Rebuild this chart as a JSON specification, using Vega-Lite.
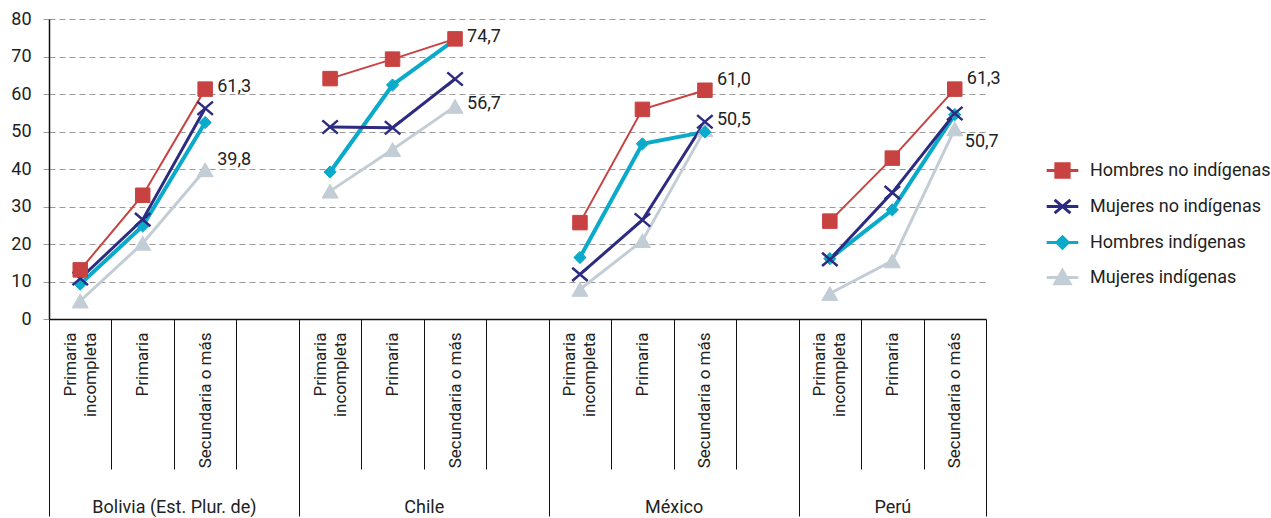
{
  "$schema": "https://vega.github.io/schema/vega-lite/v6.json",
  "width": 937,
  "height": 300,
  "autosize": {"type": "none"},
  "padding": {"left": 49, "top": 19, "right": 285, "bottom": 199},
  "background": "white",
  "config": {
    "view": {"stroke": null},
    "font": "Roboto",
    "text": {"font": "Roboto"}
  },
  "data": {
    "values": [
      {"country": "Bolivia (Est. Plur. de)", "series": "Mujeres indígenas", "level": "Primaria incompleta", "value": 4.8},
      {"country": "Bolivia (Est. Plur. de)", "series": "Mujeres indígenas", "level": "Primaria", "value": 20.2},
      {"country": "Bolivia (Est. Plur. de)", "series": "Mujeres indígenas", "level": "Secundaria o más", "value": 39.8, "label": "39,8"},
      {"country": "Chile", "series": "Mujeres indígenas", "level": "Primaria incompleta", "value": 34.1},
      {"country": "Chile", "series": "Mujeres indígenas", "level": "Primaria", "value": 45.2},
      {"country": "Chile", "series": "Mujeres indígenas", "level": "Secundaria o más", "value": 56.7, "label": "56,7"},
      {"country": "México", "series": "Mujeres indígenas", "level": "Primaria incompleta", "value": 7.9},
      {"country": "México", "series": "Mujeres indígenas", "level": "Primaria", "value": 20.9},
      {"country": "México", "series": "Mujeres indígenas", "level": "Secundaria o más", "value": 50.5, "label": "50,5"},
      {"country": "Perú", "series": "Mujeres indígenas", "level": "Primaria incompleta", "value": 6.8},
      {"country": "Perú", "series": "Mujeres indígenas", "level": "Primaria", "value": 15.5},
      {"country": "Perú", "series": "Mujeres indígenas", "level": "Secundaria o más", "value": 50.7, "label": "50,7"},

      {"country": "Bolivia (Est. Plur. de)", "series": "Hombres indígenas", "level": "Primaria incompleta", "value": 9.3},
      {"country": "Bolivia (Est. Plur. de)", "series": "Hombres indígenas", "level": "Primaria", "value": 24.8},
      {"country": "Bolivia (Est. Plur. de)", "series": "Hombres indígenas", "level": "Secundaria o más", "value": 52.4},
      {"country": "Chile", "series": "Hombres indígenas", "level": "Primaria incompleta", "value": 39.2},
      {"country": "Chile", "series": "Hombres indígenas", "level": "Primaria", "value": 62.4},
      {"country": "Chile", "series": "Hombres indígenas", "level": "Secundaria o más", "value": 74.5},
      {"country": "México", "series": "Hombres indígenas", "level": "Primaria incompleta", "value": 16.4},
      {"country": "México", "series": "Hombres indígenas", "level": "Primaria", "value": 46.7},
      {"country": "México", "series": "Hombres indígenas", "level": "Secundaria o más", "value": 49.9},
      {"country": "Perú", "series": "Hombres indígenas", "level": "Primaria incompleta", "value": 16.1},
      {"country": "Perú", "series": "Hombres indígenas", "level": "Primaria", "value": 29.1},
      {"country": "Perú", "series": "Hombres indígenas", "level": "Secundaria o más", "value": 54.5},

      {"country": "Bolivia (Est. Plur. de)", "series": "Mujeres no indígenas", "level": "Primaria incompleta", "value": 10.8},
      {"country": "Bolivia (Est. Plur. de)", "series": "Mujeres no indígenas", "level": "Primaria", "value": 26.5},
      {"country": "Bolivia (Est. Plur. de)", "series": "Mujeres no indígenas", "level": "Secundaria o más", "value": 56.2},
      {"country": "Chile", "series": "Mujeres no indígenas", "level": "Primaria incompleta", "value": 51.2},
      {"country": "Chile", "series": "Mujeres no indígenas", "level": "Primaria", "value": 51.0},
      {"country": "Chile", "series": "Mujeres no indígenas", "level": "Secundaria o más", "value": 64.0},
      {"country": "México", "series": "Mujeres no indígenas", "level": "Primaria incompleta", "value": 11.9},
      {"country": "México", "series": "Mujeres no indígenas", "level": "Primaria", "value": 26.4},
      {"country": "México", "series": "Mujeres no indígenas", "level": "Secundaria o más", "value": 52.6},
      {"country": "Perú", "series": "Mujeres no indígenas", "level": "Primaria incompleta", "value": 15.9},
      {"country": "Perú", "series": "Mujeres no indígenas", "level": "Primaria", "value": 33.7},
      {"country": "Perú", "series": "Mujeres no indígenas", "level": "Secundaria o más", "value": 54.8},

      {"country": "Bolivia (Est. Plur. de)", "series": "Hombres no indígenas", "level": "Primaria incompleta", "value": 13.1},
      {"country": "Bolivia (Est. Plur. de)", "series": "Hombres no indígenas", "level": "Primaria", "value": 33.0},
      {"country": "Bolivia (Est. Plur. de)", "series": "Hombres no indígenas", "level": "Secundaria o más", "value": 61.3, "label": "61,3"},
      {"country": "Chile", "series": "Hombres no indígenas", "level": "Primaria incompleta", "value": 64.1},
      {"country": "Chile", "series": "Hombres no indígenas", "level": "Primaria", "value": 69.3},
      {"country": "Chile", "series": "Hombres no indígenas", "level": "Secundaria o más", "value": 74.7, "label": "74,7"},
      {"country": "México", "series": "Hombres no indígenas", "level": "Primaria incompleta", "value": 25.7},
      {"country": "México", "series": "Hombres no indígenas", "level": "Primaria", "value": 55.9},
      {"country": "México", "series": "Hombres no indígenas", "level": "Secundaria o más", "value": 61.0, "label": "61,0"},
      {"country": "Perú", "series": "Hombres no indígenas", "level": "Primaria incompleta", "value": 26.1},
      {"country": "Perú", "series": "Hombres no indígenas", "level": "Primaria", "value": 42.9},
      {"country": "Perú", "series": "Hombres no indígenas", "level": "Secundaria o más", "value": 61.3, "label": "61,3"}
    ]
  },
  "transform": [
    {"calculate": "indexof(['Bolivia (Est. Plur. de)','Chile','México','Perú'], datum.country) * 4 + indexof(['Primaria incompleta','Primaria','Secundaria o más'], datum.level) + 0.5", "as": "pos"}
  ],
  "encoding": {
    "y": {"field": "value", "type": "quantitative", "scale": {"domain": [0, 80], "nice": false, "zero": true}, "axis": {"title": null, "values": [0, 10, 20, 30, 40, 50, 60, 70, 80], "grid": true, "gridColor": "#9a9a9a", "gridDash": [6, 4], "gridWidth": 1, "tickSize": 6, "tickColor": "#9a9a9a", "tickDash": [6, 4], "domain": true, "domainColor": "#111", "domainWidth": 1.5, "labelFontSize": 18, "labelColor": "#222", "labelPadding": 12}}
  },
  "resolve": {"axis": {"x": "independent"}},
  "layer": [
    {
      "mark": {"type": "line", "strokeCap": "butt", "strokeJoin": "miter"},
      "encoding": {
        "x": {"field": "pos", "type": "quantitative", "scale": {"domain": [0, 15], "nice": false, "zero": false}, "axis": {"orient": "bottom", "title": null, "values": [1, 2, 3, 5, 6, 7, 9, 10, 11, 13, 14], "labels": false, "tickSize": 150, "tickColor": "#111", "tickWidth": 1, "domain": true, "domainColor": "#111", "domainWidth": 1.5, "grid": false}},
        "color": {"field": "series", "type": "nominal", "legend": null, "scale": {"range": ["#0AAACB", "#C94242", "#C3CDD6", "#2C2B80"]}},
        "strokeWidth": {"field": "series", "type": "nominal", "legend": null, "scale": {"type": "ordinal", "range": [4, 2, 3, 3]}},
        "detail": {"field": "country"}
      }
    },
    {
      "transform": [{"filter": "datum.series == 'Mujeres indígenas'"}],
      "mark": {"type": "point", "shape": "triangle-up", "size": 256, "filled": true, "opacity": 1, "fill": "#C3CDD6", "stroke": "#C3CDD6", "strokeWidth": 1},
      "encoding": {
        "x": {"field": "pos", "type": "quantitative", "axis": {"orient": "bottom", "title": null, "values": [1.5, 2.5, 5.5, 6.5, 9.5, 10.5, 13.5, 14.5], "ticks": false, "domain": false, "grid": false, "labelAngle": 270, "labelAlign": "right", "labelBaseline": "middle", "labelPadding": 13, "labelFontSize": 17, "labelColor": "#222", "labelFlush": false, "labelOverlap": false, "labelExpr": "datum.value % 4 == 1.5 ? 'Primaria' : 'Secundaria o más'"}}
      }
    },
    {
      "transform": [{"filter": "datum.series == 'Hombres indígenas'"}],
      "mark": {"type": "point", "shape": "diamond", "size": 150, "filled": true, "opacity": 1, "fill": "#0AAACB", "stroke": "#0AAACB", "strokeWidth": 1},
      "encoding": {
        "x": {"field": "pos", "type": "quantitative", "axis": {"orient": "bottom", "title": null, "values": [0.5, 4.5, 8.5, 12.5], "ticks": false, "domain": false, "grid": false, "labelAngle": 270, "labelAlign": "right", "labelBaseline": "middle", "labelPadding": 13, "labelOffset": -10, "labelFontSize": 17, "labelColor": "#222", "labelFlush": false, "labelOverlap": false, "labelExpr": "'Primaria'"}}
      }
    },
    {
      "transform": [{"filter": "datum.series == 'Mujeres no indígenas'"}],
      "mark": {"type": "point", "shape": "M-1,-0.85L1,0.85M-1,0.85L1,-0.85", "size": 240, "filled": false, "opacity": 1, "stroke": "#2C2B80", "strokeWidth": 2.5},
      "encoding": {
        "x": {"field": "pos", "type": "quantitative", "axis": {"orient": "bottom", "title": null, "values": [0.5, 4.5, 8.5, 12.5], "ticks": false, "domain": false, "grid": false, "labelAngle": 270, "labelAlign": "right", "labelBaseline": "middle", "labelPadding": 13, "labelOffset": 10, "labelFontSize": 17, "labelColor": "#222", "labelFlush": false, "labelOverlap": false, "labelExpr": "'incompleta'"}}
      }
    },
    {
      "transform": [{"filter": "datum.series == 'Hombres no indígenas'"}],
      "mark": {"type": "point", "shape": "square", "size": 210, "filled": true, "opacity": 1, "fill": "#C94242", "stroke": "#C94242", "strokeWidth": 1},
      "encoding": {
        "x": {"field": "pos", "type": "quantitative", "axis": null}
      }
    },
    {
      "transform": [{"filter": "isValid(datum.label) && indexof(['Bolivia (Est. Plur. de)|Hombres no indígenas', 'Chile|Hombres no indígenas', 'Chile|Mujeres indígenas'], datum.country + '|' + datum.series) >= 0"}],
      "mark": {"type": "text", "align": "left", "baseline": "middle", "dx": 12, "dy": -2, "fontSize": 18, "color": "#222"},
      "encoding": {
        "x": {"field": "pos", "type": "quantitative", "axis": {"orient": "bottom", "title": null, "values": [2, 6, 10, 13.5], "ticks": false, "domain": false, "grid": false, "labelAngle": 0, "labelAlign": "center", "labelBaseline": "middle", "labelPadding": 188, "labelFontSize": 18, "labelColor": "#222", "labelFlush": false, "labelOverlap": false, "labelExpr": "datum.value == 2 ? 'Bolivia (Est. Plur. de)' : datum.value == 6 ? 'Chile' : datum.value == 10 ? 'México' : 'Perú'"}},
        "text": {"field": "label"}
      }
    },
    {
      "transform": [{"filter": "isValid(datum.label) && indexof(['Bolivia (Est. Plur. de)|Mujeres indígenas', 'México|Hombres no indígenas', 'México|Mujeres indígenas', 'Perú|Hombres no indígenas'], datum.country + '|' + datum.series) >= 0"}],
      "mark": {"type": "text", "align": "left", "baseline": "middle", "dx": 12, "dy": -10, "fontSize": 18, "color": "#222"},
      "encoding": {
        "x": {"field": "pos", "type": "quantitative", "axis": null},
        "text": {"field": "label"}
      }
    },
    {
      "transform": [{"filter": "isValid(datum.label) && datum.country == 'Perú' && datum.series == 'Mujeres indígenas'"}],
      "mark": {"type": "text", "align": "left", "baseline": "middle", "dx": 10, "dy": 13, "fontSize": 18, "color": "#222"},
      "encoding": {
        "x": {"field": "pos", "type": "quantitative", "axis": null},
        "text": {"field": "label"}
      }
    },
    {
      "transform": [{"filter": "false"}],
      "mark": {"type": "point", "filled": true, "opacity": 1, "size": 1000, "strokeWidth": 3},
      "encoding": {
        "x": {"field": "pos", "type": "quantitative", "axis": {"orient": "bottom", "title": null, "values": [0, 4, 8, 12, 15], "labels": false, "tickSize": 197, "tickColor": "#111", "tickWidth": 1, "domain": false, "grid": false}},
        "fill": {"field": "series", "type": "nominal", "scale": {"domain": ["Hombres no indígenas", "Mujeres no indígenas", "Hombres indígenas", "Mujeres indígenas"], "range": ["#C94242", "#2C2B80", "#0AAACB", "#C3CDD6"]}, "legend": {"title": null, "orient": "none", "legendX": 996, "legendY": 134, "padding": 0, "symbolSize": 1000, "symbolStrokeWidth": 3, "labelFontSize": 18, "labelColor": "#222", "labelOffset": 10, "labelLimit": 400, "rowPadding": 5}},
        "stroke": {"field": "series", "type": "nominal", "scale": {"domain": ["Hombres no indígenas", "Mujeres no indígenas", "Hombres indígenas", "Mujeres indígenas"], "range": ["#C94242", "#2C2B80", "#0AAACB", "#C3CDD6"]}, "legend": {"title": null, "orient": "none", "legendX": 996, "legendY": 134, "padding": 0, "symbolSize": 1000, "symbolStrokeWidth": 3, "labelFontSize": 18, "labelColor": "#222", "labelOffset": 10, "labelLimit": 400, "rowPadding": 5}},
        "shape": {"field": "series", "type": "nominal", "scale": {"domain": ["Hombres no indígenas", "Mujeres no indígenas", "Hombres indígenas", "Mujeres indígenas"], "range": ["M-1,0H1M-0.42,-0.42H0.42V0.42H-0.42Z", "M-1,0H1M-0.5,-0.42L0.5,0.42M-0.5,0.42L0.5,-0.42", "M-1,0H1M-0.36,0L0,-0.36L0.36,0L0,0.36Z", "M-1,0H1M0,-0.45L0.48,0.4H-0.48Z"]}, "legend": {"title": null, "orient": "none", "legendX": 996, "legendY": 134, "padding": 0, "symbolSize": 1000, "symbolStrokeWidth": 3, "labelFontSize": 18, "labelColor": "#222", "labelOffset": 10, "labelLimit": 400, "rowPadding": 5}}
      }
    }
  ]
}
